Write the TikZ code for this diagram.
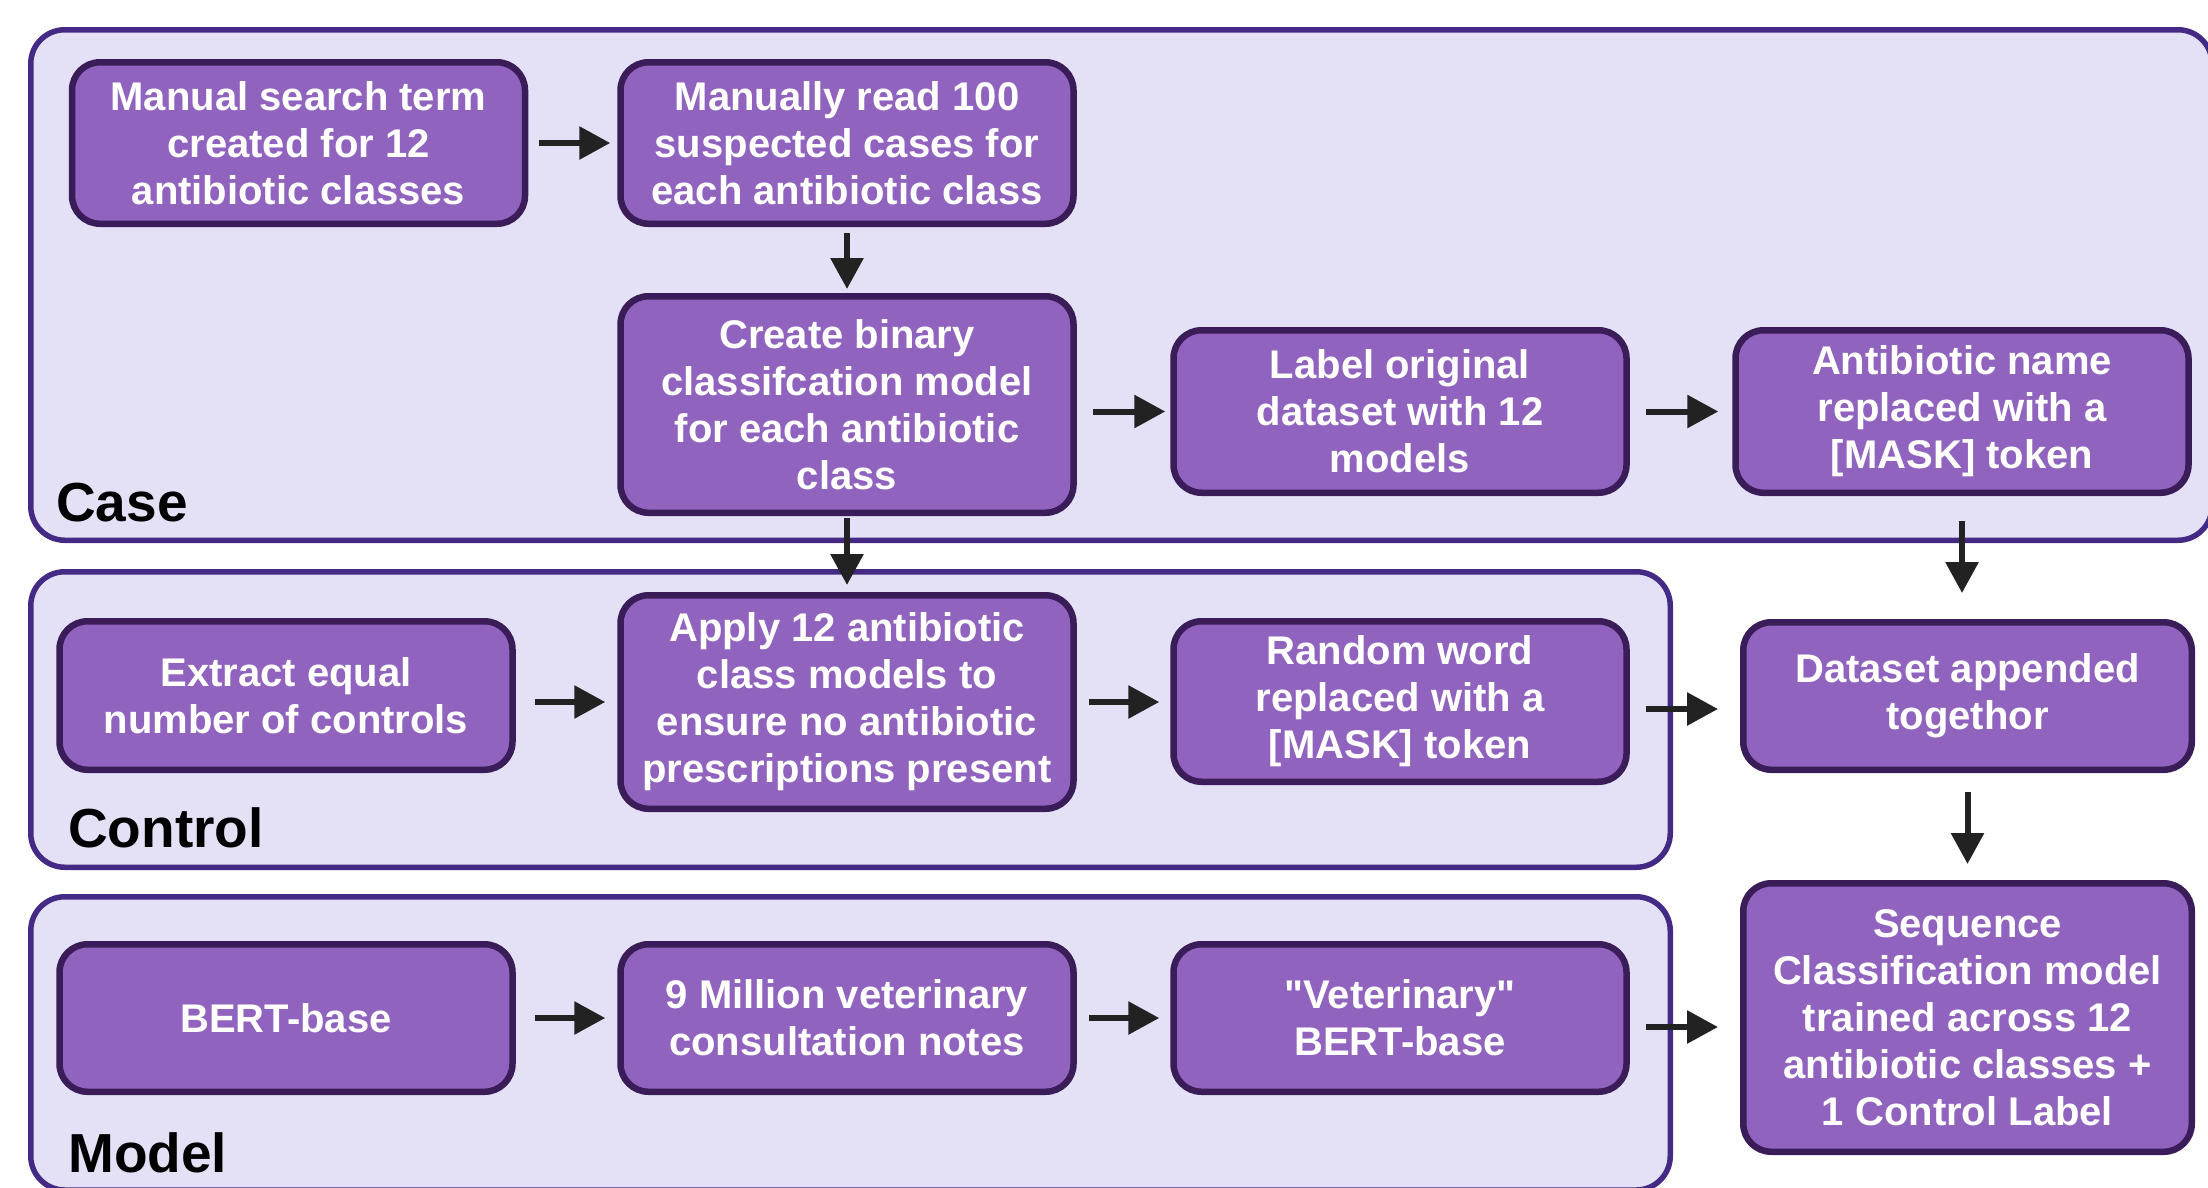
\documentclass[tikz,border=0pt]{standalone}
\usepackage{fontspec}
\setmainfont{Liberation Sans}[Ligatures=TeXOff]
\usetikzlibrary{arrows.meta}
\definecolor{panelfill}{HTML}{E4E1F6}
\definecolor{paneledge}{HTML}{452A85}
\definecolor{boxfill}{HTML}{9063BE}
\definecolor{boxedge}{HTML}{3A1D58}
\definecolor{arrowcol}{HTML}{222222}
\begin{document}
\begin{tikzpicture}[x=1pt,y=-1pt,
  panel/.style={fill=panelfill,draw=paneledge,line width=5.5pt,rounded corners=34pt},
  stepbox/.style={rectangle,rounded corners=28pt,draw=boxedge,fill=boxfill,
    line width=6.5pt,text=white,align=center,inner sep=0pt,
    minimum width=453pt,font=\fontsize{40}{47}\selectfont\bfseries},
  ptitle/.style={anchor=base west,inner sep=0pt,font=\fontsize{55}{60}\selectfont\bfseries},
  arr/.style={draw=arrowcol,line width=6pt,-{Triangle[length=31pt,width=32pt]}}]

\useasboundingbox (0,0) rectangle (2208,1187);

% group panels
\draw[panel] (30.75,29.75) rectangle (2212,540.25);
\draw[panel] (30.75,571.75) rectangle (1670.25,867.25);
\draw[panel] (30.75,896.75) rectangle (1670.25,1190);

\node[ptitle] (tcase) at (56,521) {Case};
\node[ptitle] (tcontrol) at (68,847) {Control};
\node[ptitle] (tmodel) at (68,1172) {Model};

% case row
\node[stepbox,minimum height=161.5pt] (b1) at (298.5,143) {Manual search term\\created for 12\\antibiotic classes};
\node[stepbox,minimum height=161.5pt] (b2) at (847,143) {Manually read 100\\suspected cases for\\each antibiotic class};
\node[stepbox,minimum height=216.5pt] (b3) at (847,404.5) {Create binary\\classifcation model\\for each antibiotic\\class};
\node[stepbox,minimum height=162.5pt] (b4) at (1400,411.5) {Label original\\dataset with 12\\models};
\node[stepbox,minimum height=162.5pt] (b5) at (1962,411.5) {Antibiotic name\\replaced with a\\{[MASK]} token};

% control row
\node[stepbox,minimum height=148.5pt] (b6) at (286,695.5) {Extract equal\\number of controls};
\node[stepbox,minimum height=213.5pt] (b7) at (847,702) {Apply 12 antibiotic\\class models to\\ensure no antibiotic\\prescriptions present};
\node[stepbox,minimum height=160.5pt] (b8) at (1400,701.5) {Random word\\replaced with a\\{[MASK]} token};
\node[stepbox,minimum height=147.5pt,minimum width=448.5pt] (b9) at (1967.5,696) {Dataset appended\\togethor};

% model row
\node[stepbox,minimum height=147.5pt] (b10) at (286,1018) {BERT-base};
\node[stepbox,minimum height=147.5pt] (b11) at (847,1018) {9 Million veterinary\\consultation notes};
\node[stepbox,minimum height=147.5pt] (b12) at (1400,1018) {"Veterinary"\\BERT-base};
\node[stepbox,minimum height=268.5pt,minimum width=448.5pt] (b13) at (1967.5,1017.5) {Sequence\\Classification model\\trained across 12\\antibiotic classes +\\1 Control Label};

% connectors
\draw[arr,shorten <=11pt,shorten >=7pt] (b1) -- (b2);
\draw[arr,shorten <=6pt,shorten >=4pt] (b2) -- (b3);
\draw[arr,shorten <=2pt,shorten >=7pt] (b3) -- (b7);
\draw[arr,shorten <=16pt,shorten >=5pt] (b3.east |- b4) -- (b4);
\draw[arr,shorten <=16pt,shorten >=14pt] (b4) -- (b5);
\draw[arr,shorten <=25pt,shorten >=26pt] (b5) -- (b5 |- b9.north);
\draw[arr,shorten <=19pt,shorten >=16pt] (b9) -- (b13);

\draw[arr,shorten <=19pt,shorten >=12pt] (b6.east |- b7) -- (b7);
\draw[arr,shorten <=12pt,shorten >=11pt] (b7) -- (b8.west |- b7);
\coordinate (m89) at ([yshift=-7.5pt]b8.east);
\draw[arr,shorten <=16pt,shorten >=22pt] (m89) -- (m89 -| b9.west);

\draw[arr,shorten <=19pt,shorten >=12pt] (b10) -- (b11);
\draw[arr,shorten <=12pt,shorten >=11pt] (b11) -- (b12);
\coordinate (m1213) at ([yshift=-9pt]b12.east);
\draw[arr,shorten <=16pt,shorten >=22pt] (m1213) -- (m1213 -| b13.west);
\end{tikzpicture}
\end{document}
